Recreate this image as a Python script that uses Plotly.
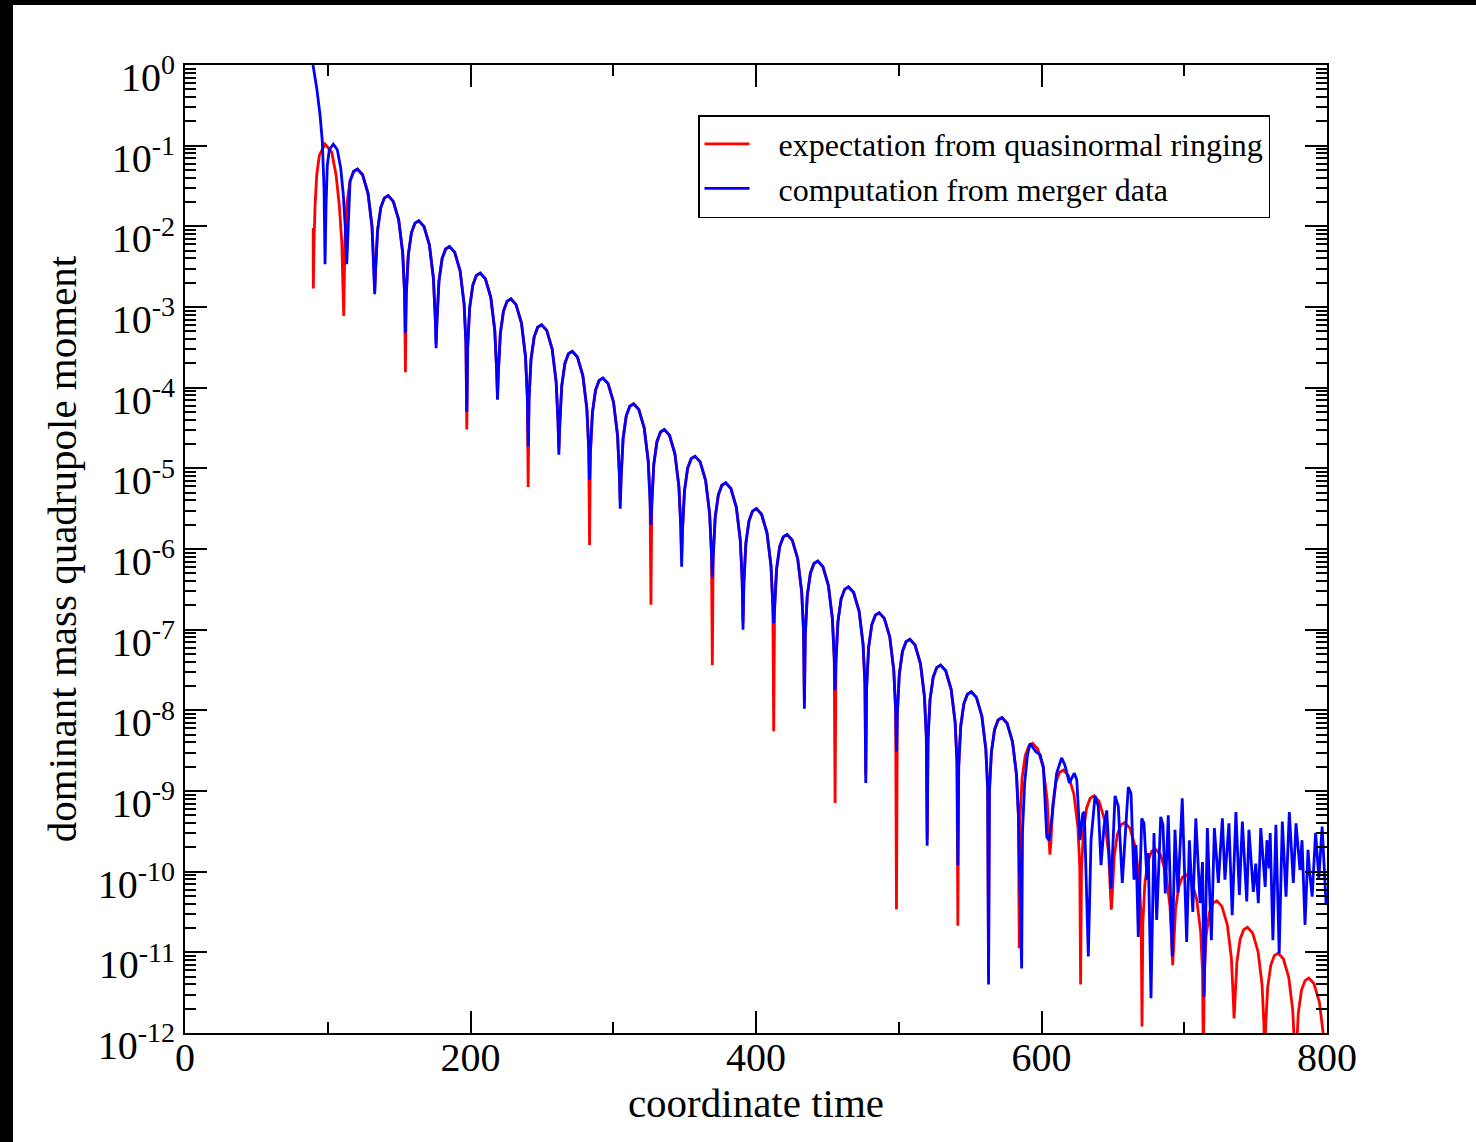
import numpy as np
import plotly.graph_objects as go

# ---------------- data (y values stored as log10) ----------------
# red "expectation" : start segment and first lobe
red_head_t = [89.8, 89.9, 90.4, 91.1, 92.3, 94.1, 98.1, 102.8, 105.8, 108.1, 109.8, 110.6, 112.0, 113.4]
red_head_log = [-2.02, -2.77, -2.19, -1.74, -1.36, -1.12, -0.98, -1.08, -1.36, -1.74, -2.19, -2.60, -2.21, -1.72]

# blue "computation" : initial fall and first lobe
blue_head_t = [88.5, 89.5, 92.3, 94.6, 96.2, 97.4, 98.1, 98.8, 99.7, 101.1, 103.9, 106.7, 109.1, 110.9, 112.3, 113.3]
blue_head_log = [0.13, 0.02, -0.29, -0.62, -0.95, -1.53, -2.47, -1.74, -1.24, -1.05, -0.98, -1.05, -1.28, -1.61, -2.02, -2.47]

# arches where both curves coincide (t 115 .. 584)
shared_t = [
    115.6, 118.1, 120.8, 124.4, 128.2, 131.0, 132.3,
    133.5, 134.9, 137.1, 139.6, 142.3, 145.9, 149.7, 152.5, 153.8,
    155.0, 156.4, 158.6, 161.1, 163.8, 167.4, 171.2, 174.0, 175.3,
    176.5, 177.9, 180.1, 182.6, 185.3, 188.9, 192.7, 195.5, 196.8,
    198.0, 199.4, 201.6, 204.1, 206.8, 210.4, 214.2, 217.0, 218.3,
    219.5, 220.9, 223.1, 225.6, 228.3, 231.9, 235.7, 238.5, 239.8,
    241.0, 242.4, 244.6, 247.1, 249.8, 253.4, 257.2, 260.0, 261.3,
    262.5, 263.9, 266.1, 268.6, 271.3, 274.9, 278.7, 281.5, 282.8,
    284.0, 285.4, 287.6, 290.1, 292.8, 296.4, 300.2, 303.0, 304.3,
    305.5, 306.9, 309.1, 311.6, 314.3, 317.9, 321.7, 324.5, 325.8,
    327.0, 328.4, 330.6, 333.1, 335.8, 339.4, 343.2, 346.0, 347.3,
    348.5, 349.9, 352.1, 354.6, 357.3, 360.9, 364.7, 367.5, 368.8,
    370.0, 371.4, 373.6, 376.1, 378.8, 382.4, 386.2, 389.0, 390.3,
    391.5, 392.9, 395.1, 397.6, 400.3, 403.9, 407.7, 410.5, 411.8,
    413.0, 414.4, 416.6, 419.1, 421.8, 425.4, 429.2, 432.0, 433.3,
    434.5, 435.9, 438.1, 440.6, 443.3, 446.9, 450.7, 453.5, 454.8,
    456.0, 457.4, 459.6, 462.1, 464.8, 468.4, 472.2, 475.0, 476.3,
    477.5, 478.9, 481.1, 483.6, 486.3, 489.9, 493.7, 496.5, 497.8,
    499.0, 500.4, 502.6, 505.1, 507.8, 511.4, 515.2, 518.0, 519.3,
    520.5, 521.9, 524.1, 526.6, 529.3, 532.9, 536.7, 539.5, 540.8,
    542.0, 543.4, 545.6, 548.1, 550.8, 554.4, 558.2, 561.0, 562.3,
    563.5, 564.9, 567.1, 569.6, 572.3, 575.9, 579.7, 582.5, 583.8,
]
shared_log = [
    -1.44, -1.32, -1.29, -1.36, -1.59, -2.00, -2.49,
    -2.54, -2.05, -1.77, -1.65, -1.62, -1.69, -1.92, -2.33, -2.82,
    -2.85, -2.36, -2.08, -1.96, -1.93, -2.00, -2.23, -2.64, -3.13,
    -3.17, -2.68, -2.40, -2.28, -2.25, -2.32, -2.55, -2.96, -3.45,
    -3.50, -3.01, -2.73, -2.61, -2.58, -2.65, -2.88, -3.29, -3.78,
    -3.82, -3.33, -3.05, -2.93, -2.90, -2.97, -3.20, -3.61, -4.10,
    -4.14, -3.65, -3.37, -3.25, -3.22, -3.29, -3.52, -3.93, -4.42,
    -4.47, -3.98, -3.70, -3.58, -3.55, -3.62, -3.85, -4.26, -4.75,
    -4.80, -4.31, -4.03, -3.91, -3.88, -3.95, -4.18, -4.59, -5.08,
    -5.12, -4.63, -4.35, -4.23, -4.20, -4.27, -4.50, -4.91, -5.40,
    -5.44, -4.95, -4.67, -4.55, -4.52, -4.59, -4.82, -5.23, -5.72,
    -5.77, -5.28, -5.00, -4.88, -4.85, -4.92, -5.15, -5.56, -6.05,
    -6.10, -5.61, -5.33, -5.21, -5.18, -5.25, -5.48, -5.89, -6.38,
    -6.42, -5.93, -5.65, -5.53, -5.50, -5.57, -5.80, -6.21, -6.70,
    -6.74, -6.25, -5.97, -5.85, -5.82, -5.89, -6.12, -6.53, -7.02,
    -7.07, -6.58, -6.30, -6.18, -6.15, -6.22, -6.45, -6.86, -7.35,
    -7.39, -6.90, -6.62, -6.50, -6.47, -6.54, -6.77, -7.18, -7.67,
    -7.71, -7.22, -6.94, -6.82, -6.79, -6.86, -7.09, -7.50, -7.99,
    -8.04, -7.55, -7.27, -7.15, -7.12, -7.19, -7.42, -7.83, -8.32,
    -8.36, -7.87, -7.59, -7.47, -7.44, -7.51, -7.74, -8.15, -8.64,
    -8.69, -8.20, -7.92, -7.80, -7.77, -7.84, -8.07, -8.48, -8.97,
    -9.01, -8.52, -8.24, -8.12, -8.09, -8.16, -8.39, -8.80, -9.29,
]

# trough minima (each curve reaches a different depth)
red_trough_t = [111.2, 132.9, 154.4, 175.9, 197.4, 218.9, 240.4, 261.9, 283.4, 304.9, 326.4,
                347.9, 369.4, 390.9, 412.4, 433.9, 455.4, 476.9, 498.4, 519.9, 541.4, 562.9,
                584.4, 605.9, 627.4, 648.9, 670.4, 691.9, 713.4, 734.9, 756.4, 777.9, 799.6]
red_trough_log = [-3.11, -2.80, -3.81, -3.45, -4.52, -4.10, -5.23, -4.75, -5.95, -5.40, -6.69,
                  -6.10, -7.44, -6.90, -8.26, -7.90, -9.15, -8.80, -10.47, -9.60, -10.67, -11.30,
                  -10.95, -9.79, -11.40, -10.47, -11.92, -11.16, -12.40, -11.82, -12.60, -12.80, -12.90]
blue_trough_t = [132.9, 154.4, 175.9, 197.4, 218.9, 240.4, 261.9, 283.4, 304.9, 326.4,
                 347.9, 369.4, 390.9, 412.4, 433.9, 455.4, 476.9, 498.4, 519.9, 541.4, 562.9, 586.1]
blue_trough_log = [-2.84, -3.32, -3.51, -4.30, -4.15, -4.73, -4.83, -5.14, -5.50, -5.70,
                   -6.22, -6.36, -7.00, -6.92, -7.98, -7.75, -8.90, -8.51, -9.68, -9.92, -11.40, -11.20]

# red late arches (t 585 .. 800)
red_tail_t = [
    585.0, 586.4, 588.6, 591.1, 593.8, 597.4, 601.2, 604.0, 605.3,
    606.5, 607.9, 610.1, 612.6, 615.3, 618.9, 622.7, 625.5, 626.8,
    628.0, 629.4, 631.6, 634.1, 636.8, 640.4, 644.2, 647.0, 648.3,
    649.5, 650.9, 653.1, 655.6, 658.3, 661.9, 665.7, 668.5, 669.8,
    671.0, 672.4, 674.6, 677.1, 679.8, 683.4, 687.2, 690.0, 691.3,
    692.5, 693.9, 696.1, 698.6, 701.3, 704.9, 708.7, 711.5, 712.8,
    714.0, 715.4, 717.6, 720.1, 722.8, 726.4, 730.2, 733.0, 734.3,
    735.5, 736.9, 739.1, 741.6, 744.3, 747.9, 751.7, 754.5, 755.8,
    757.0, 758.4, 760.6, 763.1, 765.8, 769.4, 773.2, 776.0, 777.3,
    778.5, 779.9, 782.1, 784.6, 787.3, 790.9, 794.7, 797.5, 798.8,
]
red_tail_log = [
    -9.33, -8.84, -8.56, -8.44, -8.41, -8.48, -8.71, -9.12, -9.61,
    -9.66, -9.17, -8.89, -8.77, -8.74, -8.81, -9.04, -9.45, -9.94,
    -9.98, -9.49, -9.21, -9.09, -9.06, -9.13, -9.36, -9.77, -10.26,
    -10.31, -9.82, -9.54, -9.42, -9.39, -9.46, -9.69, -10.10, -10.59,
    -10.64, -10.15, -9.87, -9.75, -9.72, -9.79, -10.02, -10.43, -10.92,
    -10.96, -10.47, -10.19, -10.07, -10.04, -10.11, -10.34, -10.75, -11.24,
    -11.28, -10.79, -10.51, -10.39, -10.36, -10.43, -10.66, -11.07, -11.56,
    -11.61, -11.12, -10.84, -10.72, -10.69, -10.76, -10.99, -11.40, -11.89,
    -11.93, -11.44, -11.16, -11.04, -11.01, -11.08, -11.31, -11.72, -12.21,
    -12.24, -11.75, -11.47, -11.35, -11.32, -11.39, -11.62, -12.03, -12.52,
]

# blue late noisy part (t 586 .. 800)
blue_tail_t = [586.7, 588.2, 590.2, 592.1, 595.9, 599.0, 601.3, 603.7, 605.3, 607.1, 610.6, 614.1,
               616.4, 619.5, 621.2, 623.0, 624.7, 627.0, 628.9, 630.0, 632.8, 634.7, 637.5, 639.8,
               641.7, 643.8, 645.7, 648.7, 651.5, 653.8, 656.6, 660.8, 662.7, 664.8, 666.2, 667.8,
               670.2, 671.8, 673.9, 674.8, 676.7, 678.8, 680.7, 683.5, 685.1, 686.7, 688.8, 691.6,
               693.5, 695.6, 698.6, 701.7, 703.6, 706.0, 708.1, 711.1, 712.8, 713.9, 716.2, 719.0,
               721.1, 723.9, 726.7, 728.5, 731.3, 733.6, 736.2, 738.6, 740.7, 743.8, 745.3, 748.4,
               750.1, 751.9, 753.6, 756.7, 757.9, 759.5, 760.2, 762.1, 764.2, 766.5, 768.7, 771.3,
               773.6, 776.4, 778.3, 781.1, 782.5, 784.6, 786.7, 787.7, 789.6, 792.0, 794.3, 796.6, 799.3]
blue_tail_log = [-9.50, -8.90, -8.55, -8.41, -8.51, -8.55, -8.70, -9.57, -9.61, -9.36, -8.78, -8.59,
                 -8.68, -8.90, -8.84, -8.78, -8.86, -9.61, -9.28, -9.26, -11.05, -9.61, -9.06, -9.19,
                 -9.92, -9.44, -9.24, -10.21, -9.06, -9.19, -10.14, -8.95, -9.03, -10.10, -9.67, -10.81,
                 -9.34, -9.40, -10.10, -9.77, -11.57, -9.52, -10.60, -9.32, -9.42, -10.27, -9.30, -11.05,
                 -9.48, -10.26, -9.09, -10.87, -9.61, -10.50, -9.34, -10.39, -9.88, -11.55, -9.46, -10.85,
                 -9.46, -10.14, -9.34, -10.10, -9.40, -10.54, -9.26, -10.29, -9.38, -10.37, -9.48, -10.25,
                 -9.90, -10.39, -9.46, -10.19, -9.61, -9.96, -9.52, -10.85, -9.42, -11.01, -9.38, -10.31,
                 -9.26, -10.14, -9.40, -9.98, -9.61, -10.66, -9.73, -9.98, -10.31, -9.52, -10.08, -9.44, -10.39]

x_tick_vals = [0, 200, 400, 600, 800]
x_tick_text = ["0", "200", "400", "600", "800"]
x_minor_vals = [100, 300, 500, 700]
y_exponents = [0, -1, -2, -3, -4, -5, -6, -7, -8, -9, -10, -11, -12]

series_names = ["expectation from quasinormal ringing", "computation from merger data"]
series_colors = ["#ff0000", "#0000ff"]


def assemble(*parts):
    t, lg = [], []
    for pt, pl in parts:
        t += list(pt)
        lg += list(pl)
    order = np.argsort(t, kind="stable")
    return np.array(t)[order], np.power(10.0, np.array(lg)[order])


red_t, red_v = assemble((red_head_t, red_head_log), (shared_t, shared_log),
                        (red_trough_t, red_trough_log), (red_tail_t, red_tail_log))
blue_t, blue_v = assemble((blue_head_t, blue_head_log), (shared_t, shared_log),
                          (blue_trough_t, blue_trough_log), (blue_tail_t, blue_tail_log))

pad_name = "\u00a0\u00a0\u00a0"
fig = go.Figure()
fig.add_trace(go.Scatter(x=red_t, y=red_v, mode="lines", name=pad_name + series_names[0],
                         line=dict(color=series_colors[0], width=2.8)))
fig.add_trace(go.Scatter(x=blue_t, y=blue_v, mode="lines", name=pad_name + series_names[1],
                         line=dict(color=series_colors[1], width=2.8)))

W, H = 1476, 1142
L, R, T, B = 185, 149, 65, 109
pw, ph = W - L - R, H - T - B

fig.update_layout(
    width=W, height=H,
    margin=dict(l=L, r=R, t=T, b=B, pad=0),
    paper_bgcolor="white", plot_bgcolor="white",
    font=dict(family="Liberation Serif", color="black"),
    showlegend=True,
    legend=dict(x=(698 - L) / pw, y=(H - B - 115) / ph, xanchor="left", yanchor="top",
                bordercolor="black", borderwidth=1.5, bgcolor="white",
                font=dict(size=32, family="Liberation Serif", color="black"),
                itemwidth=45, tracegroupgap=0),
    xaxis=dict(range=[0, 800], tickmode="array", tickvals=x_tick_vals, ticktext=x_tick_text,
               ticks="inside", ticklen=22, tickwidth=2, tickcolor="black",
               showline=True, linewidth=2, linecolor="black", mirror="ticks",
               showgrid=False, zeroline=False, tickfont=dict(size=40),
               ticklabelstandoff=-12, automargin=False,
               minor=dict(tickmode="array", tickvals=x_minor_vals, ticks="inside", ticklen=11,
                          tickwidth=2, tickcolor="black", showgrid=False),
               title=dict(text="coordinate time", font=dict(size=41), standoff=0)),
    yaxis=dict(type="log", range=[-12, 0], tickmode="array",
               tickvals=[10.0 ** e for e in y_exponents],
               ticktext=["10<sup>%d</sup>" % e for e in y_exponents],
               ticks="inside", ticklen=22, tickwidth=2, tickcolor="black",
               showline=True, linewidth=2, linecolor="black", mirror="ticks",
               showgrid=False, zeroline=False, tickfont=dict(size=40),
               ticklabelstandoff=0, ticklabelshift=12, automargin=False,
               minor=dict(ticks="inside", ticklen=11, tickwidth=2, tickcolor="black",
                          dtick="D1", showgrid=False),
               title=dict(text="dominant mass quadrupole moment", font=dict(size=41), standoff=8)),
    shapes=[
        dict(type="rect", xref="paper", yref="paper", x0=-0.3, x1=(13 - L) / pw, y0=-0.3, y1=1.3,
             fillcolor="black", line=dict(width=0), layer="above"),
        dict(type="rect", xref="paper", yref="paper", x0=-0.3, x1=1.3, y0=(H - B - 5) / ph, y1=1.3,
             fillcolor="black", line=dict(width=0), layer="above"),
    ],
)

fig.write_html("out.html")
